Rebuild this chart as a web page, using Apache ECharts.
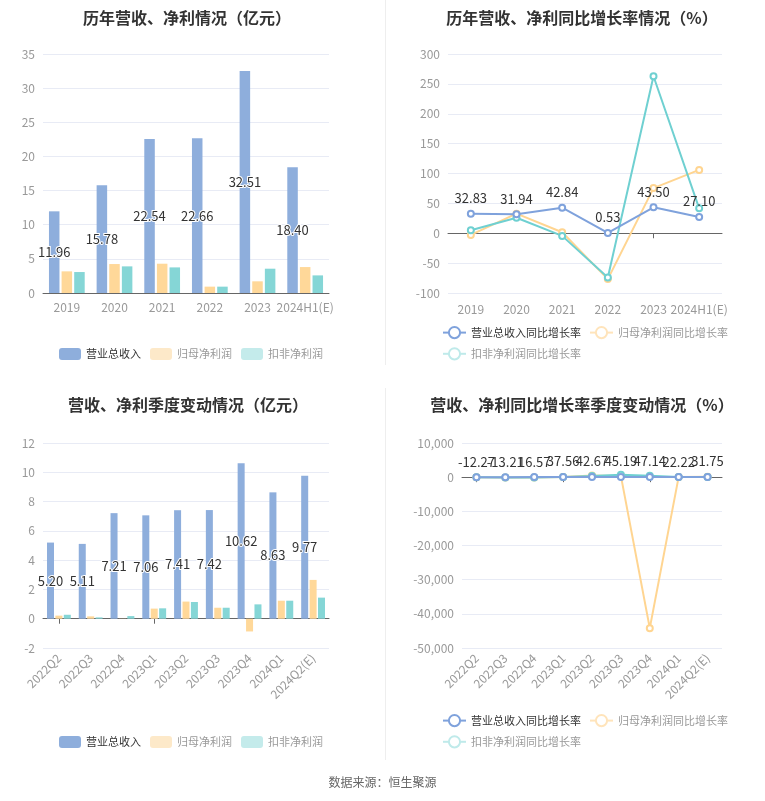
<!DOCTYPE html>
<html>
<head>
<meta charset="utf-8">
<script src="https://cdn.jsdelivr.net/npm/echarts@6/dist/echarts.min.js"></script>
<style>
html,body{margin:0;padding:0;background:#fff;}
#c{width:765px;height:801px;}
</style>
</head>
<body>
<div id="c"></div>
<script>
var years = ['2019','2020','2021','2022','2023','2024H1(E)'];
var revenue = [11.96,15.78,22.54,22.66,32.51,18.40];
var netProfit = [3.17,4.24,4.29,0.93,1.71,3.80];
var deductedProfit = [3.07,3.90,3.75,0.93,3.56,2.58];
var revenueGrowth = [32.83,31.94,42.84,0.53,43.50,27.10];
var netProfitGrowth = [-2.8,32.8,1.7,-76.7,75.6,106.0];
var deductedGrowth = [5.0,26.0,-4.4,-73.9,262.8,41.7];

var quarters = ['2022Q2','2022Q3','2022Q4','2023Q1','2023Q2','2023Q3','2023Q4','2024Q1','2024Q2(E)'];
var qRevenue = [5.20,5.11,7.21,7.06,7.41,7.42,10.62,8.63,9.77];
var qNetProfit = [0.21,0.16,0.01,0.69,1.17,0.75,-0.87,1.23,2.65];
var qDeducted = [0.27,0.09,0.18,0.71,1.14,0.75,0.98,1.23,1.44];
var qRevenueGrowth = [-12.27,-13.21,16.57,37.56,42.67,45.19,47.14,22.22,31.75];
var qNetGrowth = [-60,-85,-98,15,460,370,-44200,78,126];
var qDeductedGrowth = [-50,-88,-90,20,322,733,444,73,26];

var C_REV = '#8eaedc', C_NET = '#ffd899', C_DED = '#85d6d6';
var L_REV = '#7fa2dc', L_NET = '#ffd591', L_DED = '#6fd0d1';
var FONT = '"Noto Sans CJK SC","Noto Sans",sans-serif';

var chart = echarts.init(document.getElementById('c'));

function titleOf(text, x, y){
  return {text:text, left:x, top:y, textAlign:'center',
    textStyle:{fontSize:16, fontWeight:'bold', color:'#333', fontFamily:FONT}};
}
function valueY(grid, min, max, interval, fmt){
  return {type:'value', gridIndex:grid, min:min, max:max, interval:interval,
    axisLine:{show:false}, axisTick:{show:false},
    axisLabel:{color:'#999', fontSize:12, margin:8, fontFamily:FONT, formatter:fmt},
    splitLine:{lineStyle:{color:'#e8ebf5'}}};
}
function labelX(grid, data, rotate){
  return {type:'category', gridIndex:grid, data:data, position:'bottom',
    axisLine:{show:false, onZero:false}, axisTick:{show:false},
    axisLabel:{color:'#999', fontSize:12, rotate:rotate||0, interval:0, margin:rotate?8:10, fontFamily:FONT},
    splitLine:{show:false}};
}
function zeroX(grid, data){
  return {type:'category', gridIndex:grid, data:data, position:'bottom',
    axisLine:{show:true, onZero:true, lineStyle:{color:'#666'}},
    axisTick:{show:true, alignWithLabel:true, lineStyle:{color:'#666'}},
    axisLabel:{show:false}, splitLine:{show:false}};
}
function barSeries(name, data, color, xi, yi, withLabel){
  return {type:'bar', name:name, data:data, xAxisIndex:xi, yAxisIndex:yi,
    barCategoryGap:'25%', barGap:'20%',
    itemStyle:{color:color},
    label: withLabel ? {show:true, position:'inside', color:'#333', fontSize:13,
      textBorderColor:'#fff', textBorderWidth:2, fontFamily:FONT,
      formatter:function(p){return p.value.toFixed(2);}} : {show:false}};
}
function lineSeries(name, data, color, xi, yi, withLabel){
  return {type:'line', name:name, data:data, xAxisIndex:xi, yAxisIndex:yi,
    symbol:'emptyCircle', symbolSize:6, z: withLabel?3:2,
    lineStyle:{color:color, width:2}, itemStyle:{color:color},
    label: withLabel ? {show:true, position:'top', color:'#333', fontSize:13, fontFamily:FONT,
      formatter:function(p){return p.value.toFixed(2);}} : {show:false}};
}
function barLegend(x, y){
  return {left:x, top:y, itemWidth:22, itemHeight:12, itemGap:9, icon:'roundRect',
    textStyle:{fontSize:11, color:'#999', fontFamily:FONT}, selectedMode:false,
    data:[
      {name:'营业总收入', itemStyle:{color:C_REV}, textStyle:{color:'#333'}},
      {name:'归母净利润', itemStyle:{color:'#fde9c9'}, textStyle:{color:'#999'}},
      {name:'扣非净利润', itemStyle:{color:'#c4ebeb'}, textStyle:{color:'#999'}}
    ]};
}
function lineLegend(x, y){
  return {left:x, top:y, width:300, itemWidth:23, itemHeight:14, itemGap:8,
    textStyle:{fontSize:11, color:'#999', fontFamily:FONT}, selectedMode:false,
    data:[
      {name:'营业总收入同比增长率', itemStyle:{color:L_REV, borderColor:L_REV}, lineStyle:{color:L_REV}, textStyle:{color:'#333'}},
      {name:'归母净利润同比增长率', itemStyle:{color:'#ffe4bb', borderColor:'#ffe4bb'}, lineStyle:{color:'#ffe4bb'}, textStyle:{color:'#999'}},
      {name:'扣非净利润同比增长率', itemStyle:{color:'#bfeaea', borderColor:'#bfeaea'}, lineStyle:{color:'#bfeaea'}, textStyle:{color:'#999'}}
    ]};
}
function thousands(v){
  var s = Math.abs(v).toString().replace(/\B(?=(\d{3})+(?!\d))/g, ',');
  return (v<0?'-':'') + s;
}

var option = {
  backgroundColor:'#fff',
  animation:false,
  title:[
    titleOf('历年营收、净利情况（亿元）', 182, 5),
    titleOf('历年营收、净利同比增长率情况（%）', 577, 5),
    titleOf('营收、净利季度变动情况（亿元）', 183, 392),
    titleOf('营收、净利同比增长率季度变动情况（%）', 577, 392)
  ],
  legend:[
    barLegend(54, 343),
    lineLegend(437, 321),
    barLegend(54, 731),
    lineLegend(437, 709)
  ],
  grid:[
    {left:43, right:436, top:54, bottom:508},
    {left:448, right:43, top:54, bottom:508},
    {left:43, right:436, top:443, bottom:153},
    {left:462, right:43, top:443, bottom:153}
  ],
  xAxis:[
    {type:'category', gridIndex:0, data:years,
      axisLine:{lineStyle:{color:'#666'}}, axisTick:{alignWithLabel:true, lineStyle:{color:'#666'}},
      axisLabel:{color:'#999', fontSize:12, interval:0, fontFamily:FONT}},
    labelX(1, years),
    zeroX(1, years),
    labelX(2, quarters, 45),
    zeroX(2, quarters),
    labelX(3, quarters, 45),
    zeroX(3, quarters)
  ],
  yAxis:[
    valueY(0, 0, 35, 5),
    valueY(1, -100, 300, 50),
    valueY(2, -2, 12, 2),
    valueY(3, -50000, 10000, 10000, thousands)
  ],
  series:[
    barSeries('营业总收入', revenue, C_REV, 0, 0, true),
    barSeries('归母净利润', netProfit, C_NET, 0, 0, false),
    barSeries('扣非净利润', deductedProfit, C_DED, 0, 0, false),

    lineSeries('营业总收入同比增长率', revenueGrowth, L_REV, 1, 1, true),
    lineSeries('归母净利润同比增长率', netProfitGrowth, L_NET, 1, 1, false),
    lineSeries('扣非净利润同比增长率', deductedGrowth, L_DED, 1, 1, false),

    barSeries('营业总收入', qRevenue, C_REV, 3, 2, true),
    barSeries('归母净利润', qNetProfit, C_NET, 3, 2, false),
    barSeries('扣非净利润', qDeducted, C_DED, 3, 2, false),

    lineSeries('营业总收入同比增长率', qRevenueGrowth, L_REV, 5, 3, true),
    lineSeries('归母净利润同比增长率', qNetGrowth, L_NET, 5, 3, false),
    lineSeries('扣非净利润同比增长率', qDeductedGrowth, L_DED, 5, 3, false)
  ],
  graphic:[
    {type:'line', shape:{x1:385.5, y1:0, x2:385.5, y2:365}, style:{stroke:'#eeeeee', lineWidth:1}},
    {type:'line', shape:{x1:385.5, y1:388, x2:385.5, y2:760}, style:{stroke:'#eeeeee', lineWidth:1}},
    {type:'text', left:'center', top:776, style:{text:'数据来源：恒生聚源', fill:'#666', fontSize:12, fontFamily:FONT}}
  ]
};
chart.setOption(option);
</script>
</body>
</html>
